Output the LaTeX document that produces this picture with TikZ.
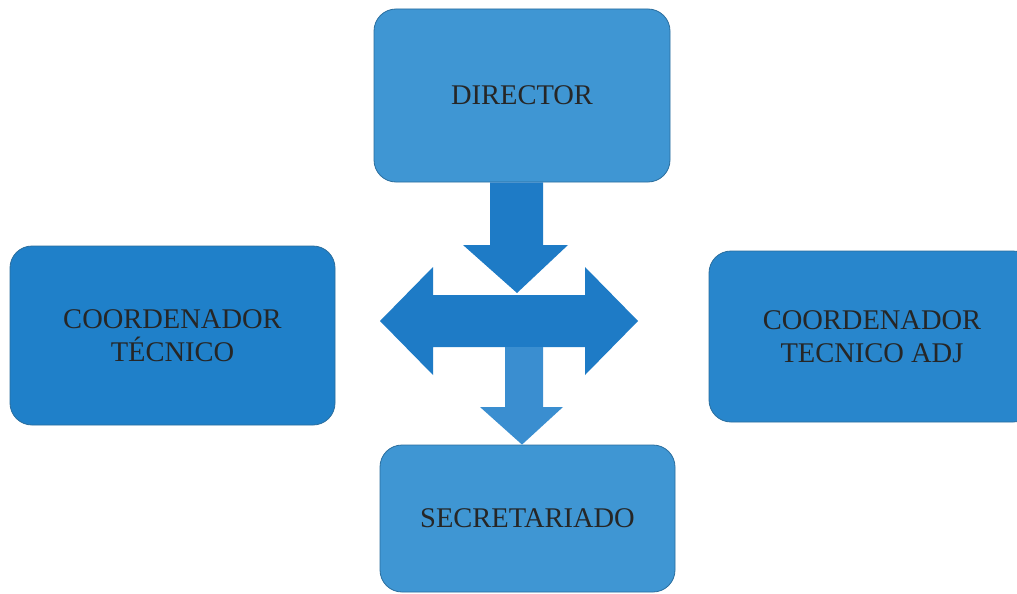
\documentclass[tikz,border=0pt]{standalone}
\usepackage{fontspec}
\setmainfont{Liberation Serif}
\usetikzlibrary{calc}
\definecolor{boxlight}{HTML}{3F96D3}
\definecolor{boxdark}{HTML}{1F80C9}
\definecolor{boxmid}{HTML}{2886CC}
\definecolor{arrowblue}{HTML}{1E7BC6}
\definecolor{arrowlight}{HTML}{3A8ED0}
\definecolor{edge}{HTML}{2A6E9E}
\tikzset{
  orgbox/.style={draw=edge, line width=0.8pt, rounded corners=22pt, align=center,
    font=\fontsize{28.5}{33}\selectfont, text=black!85, inner sep=0pt},
  blockarrow/.style={fill=arrowblue, draw=none},
}
\begin{document}
\begin{tikzpicture}[x=1pt,y=-1pt]
\useasboundingbox (0,0) rectangle (1017,594);
\clip (0,0) rectangle (1017,594);
\fill[white] (0,0) rectangle (1017,594);
% boxes
\node[orgbox, fill=boxlight, minimum width=296pt, minimum height=173pt] (dir) at (522,95.5) {DIRECTOR};
\node[orgbox, fill=boxdark, minimum width=325pt, minimum height=179pt] (ct) at (172.5,335.5) {COORDENADOR\\TÉCNICO};
\node[orgbox, fill=boxmid, minimum width=326pt, minimum height=171pt] (cta) at (872,336.5) {COORDENADOR\\TECNICO ADJ};
\node[orgbox, fill=boxlight, minimum width=295pt, minimum height=147pt] (sec) at (527.5,518.5) {SECRETARIADO};
% down arrow from director
\coordinate (dtip) at (517,293);
\fill[blockarrow] ($(dir.south)+(-32,0)$) -- ($(dir.south)+(21,0)$) -- (543,245) -- (568,245)
  -- (dtip) -- (463,245) -- (490,245) -- cycle;
% double horizontal arrow
\coordinate (ltip) at (380,321);
\coordinate (rtip) at (638,321);
\fill[blockarrow] (ltip) -- (433,267) -- (433,295) -- (585,295) -- (585,267) -- (rtip)
  -- (585,375) -- (585,347) -- (433,347) -- (433,375) -- cycle;
% down arrow to secretariado
\fill[arrowlight] (505,347) -- (543,347) -- (543,407) -- (563,407) -- (sec.north -| 522,0)
  -- (480,407) -- (505,407) -- cycle;
\end{tikzpicture}
\end{document}
